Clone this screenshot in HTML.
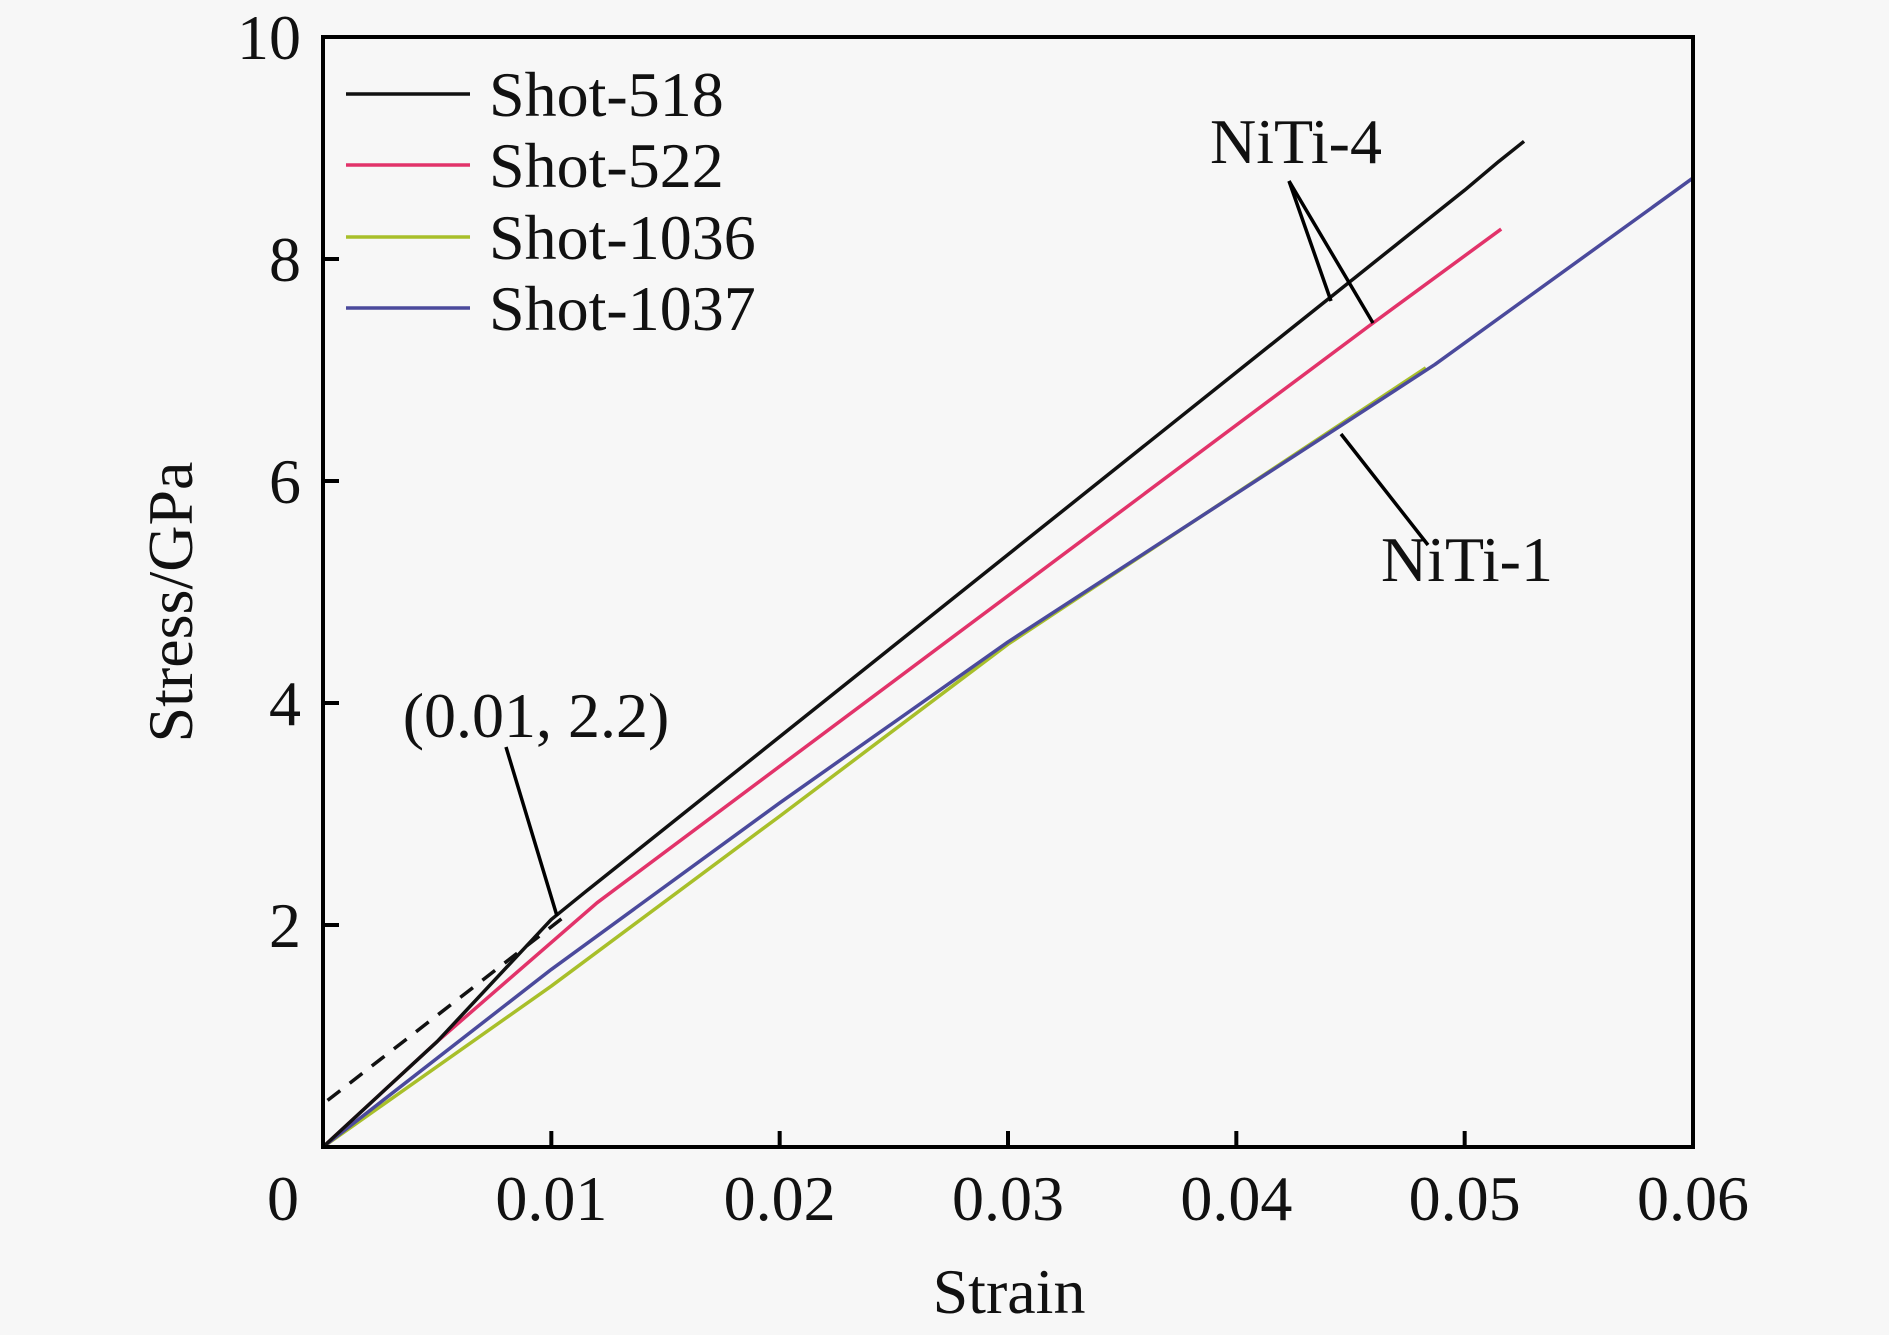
<!DOCTYPE html>
<html><head><meta charset="utf-8"><style>
html,body{margin:0;padding:0;background:#f7f7f7;}
svg{display:block;font-family:"Liberation Serif",serif;}
</style></head><body>
<svg id="chart" width="1889" height="1335" viewBox="0 0 1889 1335" xmlns="http://www.w3.org/2000/svg">
<rect x="0" y="0" width="1889" height="1335" fill="#f7f7f7"/>
<g id="plot"></g>
</svg>
<script>
const xTicks=[0.01,0.02,0.03,0.04,0.05];
const xTickLabels=["0.01","0.02","0.03","0.04","0.05","0.06"];
const yTicks=[2,4,6,8];
const yTickLabels=["2","4","6","8","10"];
const seriesNames=["Shot-518","Shot-522","Shot-1036","Shot-1037"];
const strain518=[0,0.005,0.01,0.0115,0.045,0.05,0.0515,0.0526];
const stress518=[0,0.95,2.05,2.3,7.8,8.62,8.88,9.06];
const strain522=[0,0.005,0.012,0.0459,0.0516];
const stress522=[0,0.95,2.2,7.41,8.27];
const strain1036=[0,0.01,0.02,0.03,0.0483];
const stress1036=[0,1.45,2.98,4.53,7.02];
const strain1037=[0,0.01,0.02,0.03,0.0487,0.06];
const stress1037=[0,1.6,3.1,4.55,7.05,8.73];
const dashStrain=[0.0002,0.0106];
const dashStress=[0.42,2.08];

const X0=323,X1=1693,Y0=1147,Y1=37;
const sx=v=>X0+(v/0.06)*(X1-X0);
const sy=v=>Y0-(v/10)*(Y0-Y1);
const NS="http://www.w3.org/2000/svg";
const g=document.getElementById('plot');
function mk(tag,attrs,parent){const e=document.createElementNS(NS,tag);for(const k in attrs)e.setAttribute(k,attrs[k]);(parent||g).appendChild(e);return e;}
function txt(s,x,y,anchor,name,extra){const t=mk('text',Object.assign({x:x,y:y,'text-anchor':anchor,'font-size':64,fill:'#111'},extra||{}));t.textContent=s;


return t;}

const colors=["#111111","#e2336a","#a8bf2a","#4b4a9c"];
const xs=[strain518,strain522,strain1036,strain1037];
const ys=[stress518,stress522,stress1036,stress1037];
const order=[2,3,1,0];
order.forEach(i=>{
  const p=mk('polyline',{points:xs[i].map((v,j)=>sx(v)+','+sy(ys[i][j])).join(' '),fill:'none',stroke:colors[i],'stroke-width':3.5,'stroke-linejoin':'round'});
  
  
});
const d=mk('line',{x1:sx(dashStrain[0]),y1:sy(dashStress[0]),x2:sx(dashStrain[1]),y2:sy(dashStress[1]),stroke:'#111','stroke-width':3.5,'stroke-dasharray':'16,12'});



// axes frame
const fr=mk('rect',{x:X0,y:Y1,width:X1-X0,height:Y0-Y1,fill:'none',stroke:'#000','stroke-width':4});


xTicks.forEach(v=>{const l=mk('line',{x1:sx(v),x2:sx(v),y1:Y0,y2:Y0-16,stroke:'#000','stroke-width':4});

});
yTicks.forEach(v=>{const l=mk('line',{x1:X0,x2:X0+16,y1:sy(v),y2:sy(v),stroke:'#000','stroke-width':4});

});
xTickLabels.forEach((s,i)=>txt(s,sx((i+1)*0.01),1220,'middle','x-tick-label'));
txt("0",283,1220,'middle','x-tick-label-zero');
yTickLabels.forEach((s,i)=>txt(s,301,sy((i+1)*2)+22,'end','y-tick-label'));
txt("Strain",1009,1313,'middle','x-axis-title');
txt("Stress/GPa",0,0,'middle','y-axis-title',{transform:'translate(192,602) rotate(-90)'});

// legend
const ly=[94,165,237,308];
seriesNames.forEach((n,i)=>{
  const l=mk('line',{x1:346,x2:470,y1:ly[i],y2:ly[i],stroke:colors[i],'stroke-width':3.5});
  
  
  txt(n,489,ly[i]+22,'start','legend-label-'+n.toLowerCase());
});

// annotations
txt("NiTi-4",1296,163,'middle','annotation-niti-4');
txt("NiTi-1",1467,581,'middle','annotation-niti-1');
txt("(0.01, 2.2)",536,737,'middle','annotation-point');
[[1289,181,1331,301],[1289,181,1373,323],[1428,545,1341,434],[506,747,557,916]].forEach(a=>{
  const l=mk('line',{x1:a[0],y1:a[1],x2:a[2],y2:a[3],stroke:'#000','stroke-width':3.5});
  
  
});
</script>
</body></html>
